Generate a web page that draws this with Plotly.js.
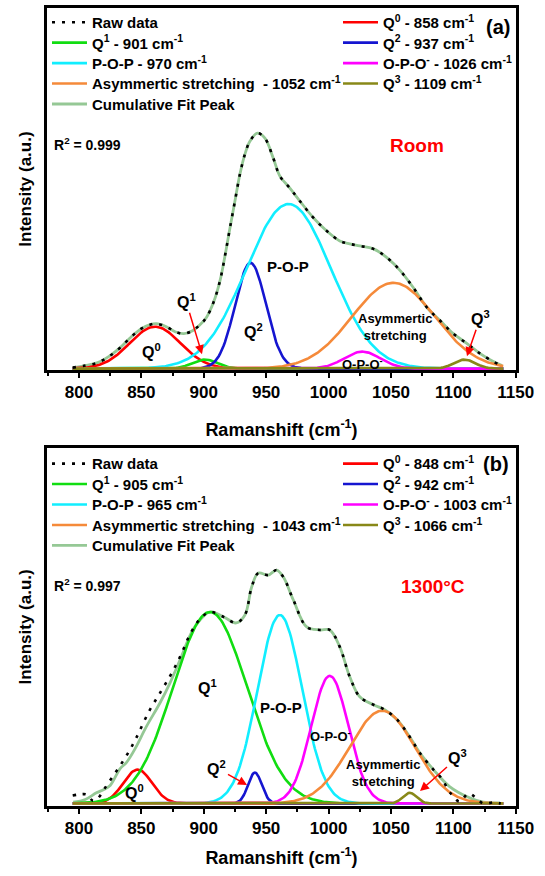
<!DOCTYPE html>
<html>
<head>
<meta charset="utf-8">
<script src="https://cdn.plot.ly/plotly-3.0.1.min.js"></script>
<style>html,body{margin:0;padding:0;background:#fff;}#chart{width:545px;height:876px;}</style>
</head>
<body>
<div id="chart"></div>
<script>
// ---------- data ----------
const peakKeys = ['Q0', 'Q1', 'Q2', 'POP', 'OPO', 'ASYM', 'Q3'];
const peakColors = ['#ff0000', '#11dd11', '#1515d0', '#11eeff', '#ff00ff', '#f58a3a', '#888818'];

// Panel (a) - Room temperature: fitted peak centre (cm-1), height (a.u.), FWHM (cm-1)
const labelsA = ['Q<sup>0</sup> - 858 cm<sup>-1</sup>', 'Q<sup>1</sup> - 901 cm<sup>-1</sup>', 'Q<sup>2</sup> - 937 cm<sup>-1</sup>',
  'P-O-P - 970 cm<sup>-1</sup>', 'O-P-O<sup>-</sup> - 1026 cm<sup>-1</sup>', 'Asymmertic stretching&nbsp; - 1052 cm<sup>-1</sup>', 'Q<sup>3</sup> - 1109 cm<sup>-1</sup>'];
const centersA = [861, 901, 937.5, 968, 1027, 1052, 1109];
const heightsA = [42, 9, 106, 165, 17, 86, 9];
const fwhmA = [48, 24, 29, 80, 34, 78, 20];

const fitXA = [795, 805, 815, 825, 833, 842, 850, 857, 862, 870, 877, 884, 891, 897, 902, 908, 913, 917, 921, 925, 929, 933, 937, 943, 949, 955.7, 961, 969, 977, 988, 998.6, 1009, 1017, 1025, 1036, 1047, 1057.6, 1068, 1079, 1089.5, 1100, 1111, 1121.5, 1132, 1139];
const fitYA = [1, 3, 6, 13, 21, 32, 40, 44, 45, 42, 37, 35, 38, 44, 51, 67, 88, 113, 141, 168, 195, 215, 228, 236, 231, 211, 193, 181, 168, 151, 138, 128, 125, 123, 120, 111, 98, 81, 61, 48, 35, 25, 15, 7, 3];
const rawXA = fitXA;
const rawYA = fitYA;

// Panel (b) - 1300 °C
const labelsB = ['Q<sup>0</sup> - 848 cm<sup>-1</sup>', 'Q<sup>1</sup> - 905 cm<sup>-1</sup>', 'Q<sup>2</sup> - 942 cm<sup>-1</sup>',
  'P-O-P - 965 cm<sup>-1</sup>', 'O-P-O<sup>-</sup> - 1003 cm<sup>-1</sup>', 'Asymmertic stretching&nbsp; - 1043 cm<sup>-1</sup>', 'Q<sup>3</sup> - 1066 cm<sup>-1</sup>'];
const centersB = [847, 905, 941, 961, 1001, 1043, 1065];
const heightsB = [34, 192, 31, 189, 128, 93, 10.7];
const fwhmB = [27, 70, 13, 42, 35, 62, 13];

const fitXB = [795.4, 805, 814, 820, 825, 833, 838, 845, 854, 865, 873, 881, 890, 897, 905, 916, 926, 933, 938.4, 943.7, 951.7, 958.4, 963.8, 971.8, 982.5, 993, 1001, 1009, 1017, 1025, 1036, 1045, 1055, 1065, 1073, 1084, 1097, 1113, 1124, 1137];
const fitYB = [1.3, 4, 10.7, 14, 18, 35, 41, 55, 77, 101, 121, 144, 171, 184, 192, 187, 181, 189, 217, 231, 229, 234, 227, 204, 177, 174, 174, 157, 127, 107, 99, 94, 84, 67, 51, 34, 17, 5.7, 1.3, 0.5];
const rawXB = [795, 800, 806, 811, 815, 820, 826, 833, 840, 846, 856, 866, 874, 881, 890, 897, 905, 916, 926, 933, 938.4, 943.7, 951.7, 958.4, 963.8, 971.8, 982.5, 993, 1001, 1009, 1017, 1025, 1036, 1045, 1055, 1065, 1073, 1084, 1090, 1098, 1105, 1112, 1118, 1124, 1132, 1138];
const rawYB = [8, 9, 9, 3, 5, 14, 25, 38, 52, 66, 92, 113, 130, 147, 172, 185, 192, 187, 181, 189, 217, 231, 229, 234, 227, 204, 177, 174, 174, 157, 127, 107, 99, 94, 84, 67, 51, 34, 26, 10, 2, 10, 6, 0, 1, 0];

// ---------- build traces ----------
const FONT = 'Liberation Sans, Arial, sans-serif';
const gridX = [];
for (let v = 795; v <= 1140; v += 1) gridX.push(v);
function gaussian(c, h, w) {
  const s = w / 2.3548;
  return gridX.map(v => h * Math.exp(-(v - c) * (v - c) / (2 * s * s)));
}
// legend rows: left column = raw, Q1, POP, ASYM, cumulative ; right column = Q0, Q2, OPO, Q3
const leftRow = {RAW: 0, Q1: 1, POP: 2, ASYM: 3, CUM: 4};
const rightRow = {Q0: 0, Q2: 1, OPO: 2, Q3: 3};

const legends = {};
let legendCount = 0;
function makeLegend(col, rowCenterPx) {
  legendCount += 1;
  const id = legendCount === 1 ? 'legend' : 'legend' + legendCount;
  const xPx = col === 0 ? 47 : 338;
  legends[id] = {x: (xPx - 47) / 469, y: (806 - rowCenterPx) / 800, xanchor: 'left', yanchor: 'middle',
    bgcolor: 'rgba(0,0,0,0)', borderwidth: 0, itemwidth: 35,
    font: {family: FONT, size: 15, color: '#000', weight: 'bold'}};
  return id;
}

function panelTraces(xa, ya, firstRowPx, labels, centers, heights, fwhm, fitX, fitY, rawX, rawY) {
  const rowPx = r => firstRowPx + 20.5 * r;
  const tr = [];
  tr.push({x: fitX, y: fitY, xaxis: xa, yaxis: ya, type: 'scatter', mode: 'lines', line: {color: '#95c895', width: 2.8, shape: 'spline', smoothing: 1},
    name: 'Cumulative Fit Peak', legend: makeLegend(0, rowPx(leftRow.CUM))});
  peakKeys.forEach((k, i) => {
    const inLeft = k in leftRow;
    tr.push({x: gridX, y: gaussian(centers[i], heights[i], fwhm[i]), xaxis: xa, yaxis: ya, type: 'scatter', mode: 'lines',
      line: {color: peakColors[i], width: 2.6}, name: labels[i],
      legend: makeLegend(inLeft ? 0 : 1, rowPx(inLeft ? leftRow[k] : rightRow[k]))});
  });
  tr.push({x: rawX, y: rawY, xaxis: xa, yaxis: ya, type: 'scatter', mode: 'lines',
    line: {color: '#000', width: 2.6, dash: '3px,7px', shape: 'spline', smoothing: 1}, name: 'Raw data',
    legend: makeLegend(0, rowPx(leftRow.RAW))});
  return tr;
}

const traces = [].concat(
  panelTraces('x', 'y', 20.5, labelsA, centersA, heightsA, fwhmA, fitXA, fitYA, rawXA, rawYA),
  panelTraces('x2', 'y2', 463, labelsB, centersB, heightsB, fwhmB, fitXB, fitYB, rawXB, rawYB)
);

function xAxis(anchor, standoff) {
  return {anchor: anchor, range: [774.4, 1150.2], showline: true, linewidth: 3, linecolor: '#000', mirror: true,
    ticks: 'outside', ticklen: 5, tickwidth: 2, tickcolor: '#000', tick0: 800, dtick: 50,
    minor: {ticks: 'outside', dtick: 25, ticklen: 3, tickwidth: 2, tickcolor: '#000'},
    showgrid: false, zeroline: false, tickfont: {family: FONT, size: 17, color: '#000', weight: 'bold'},
    title: {text: 'Ramanshift (cm<sup>-1</sup>)', font: {family: FONT, size: 18, color: '#000', weight: 'bold'}, standoff: standoff}};
}
function yAxis(anchor, domain, range) {
  return {anchor: anchor, domain: domain, range: range, showline: true, linewidth: 3, linecolor: '#000', mirror: true,
    ticks: '', showticklabels: false, showgrid: false, zeroline: false,
    title: {text: 'Intensity (a.u.)', font: {family: FONT, size: 17, color: '#000', weight: 'bold'}, standoff: 9}};
}

function txt(xr, yr, x, y, text, size, color, extra) {
  return Object.assign({xref: xr, yref: yr, x: x, y: y, text: text, showarrow: false,
    font: {family: FONT, size: size, color: color || '#000', weight: 'bold'}}, extra || {});
}
function arrowTxt(xr, yr, ax, ay, x, y, text, size) {
  return {xref: xr, yref: yr, axref: xr, ayref: yr, x: x, y: y, ax: ax, ay: ay, text: text, showarrow: true,
    arrowhead: 2, arrowsize: 1.2, arrowwidth: 1.5, arrowcolor: '#ff0000', standoff: 0, startstandoff: 0,
    font: {family: FONT, size: size, color: '#000', weight: 'bold'}};
}

const annotations = [
  txt('x', 'y', 778.4, 225.5, 'R<sup>2</sup> = 0.999', 14, '#000', {xanchor: 'left'}),
  txt('x', 'y', 1070.9, 223.5, 'Room', 19, '#ff0000'),
  txt('x', 'y', 1135.8, 342.5, '(a)', 20, '#000'),
  txt('x', 'y', 967.3, 102.5, 'P-O-P', 15),
  txt('x', 'y', 939.5, 37.5, 'Q<sup>2</sup>', 16),
  txt('x', 'y', 858.5, 17.5, 'Q<sup>0</sup>', 16),
  arrowTxt('x', 'y', 885.8, 67.5, 898.6, 14.5, 'Q<sup>1</sup>', 16),
  txt('x', 'y', 1053.2, 41.5, 'Asymmertic<br>stretching', 13),
  txt('x', 'y', 1026.8, 5, 'O-P-O<sup>-</sup>', 13),
  arrowTxt('x', 'y', 1121.4, 50.5, 1110.9, 12.5, 'Q<sup>3</sup>', 16),

  txt('x2', 'y2', 778.4, 219.5, 'R<sup>2</sup> = 0.997', 14, '#000', {xanchor: 'left'}),
  txt('x2', 'y2', 1083.7, 217.5, '1300°C', 19, '#ff0000'),
  txt('x2', 'y2', 1134.2, 340.5, '(b)', 20, '#000'),
  txt('x2', 'y2', 903.4, 116.5, 'Q<sup>1</sup>', 16),
  txt('x2', 'y2', 961.9, 96.5, 'P-O-P', 15),
  txt('x2', 'y2', 1001.2, 67.5, 'O-P-O<sup>-</sup>', 13),
  arrowTxt('x2', 'y2', 910.6, 35.5, 934.7, 18.5, 'Q<sup>2</sup>', 16),
  txt('x2', 'y2', 1043.6, 30.5, 'Asymmertic<br>stretching', 13),
  arrowTxt('x2', 'y2', 1103.7, 46.5, 1073.3, 12.5, 'Q<sup>3</sup>', 16),
  txt('x2', 'y2', 844.9, 11.5, 'Q<sup>0</sup>', 16)
];

const layout = Object.assign({
  width: 545, height: 876,
  margin: {l: 47, r: 29, t: 6, b: 70, pad: 0},
  paper_bgcolor: '#fff', plot_bgcolor: '#fff',
  font: {family: FONT, color: '#000'},
  showlegend: true, hovermode: false,
  xaxis: xAxis('y', 22),
  yaxis: yAxis('x', [0.54625, 1], [-1.5, 361.5]),
  xaxis2: xAxis('y2', 14),
  yaxis2: yAxis('x2', [0, 0.44875], [-2.5, 356.5]),
  annotations: annotations
}, legends);

Plotly.newPlot('chart', traces, layout, {displayModeBar: false, staticPlot: true});
</script>
</body>
</html>
